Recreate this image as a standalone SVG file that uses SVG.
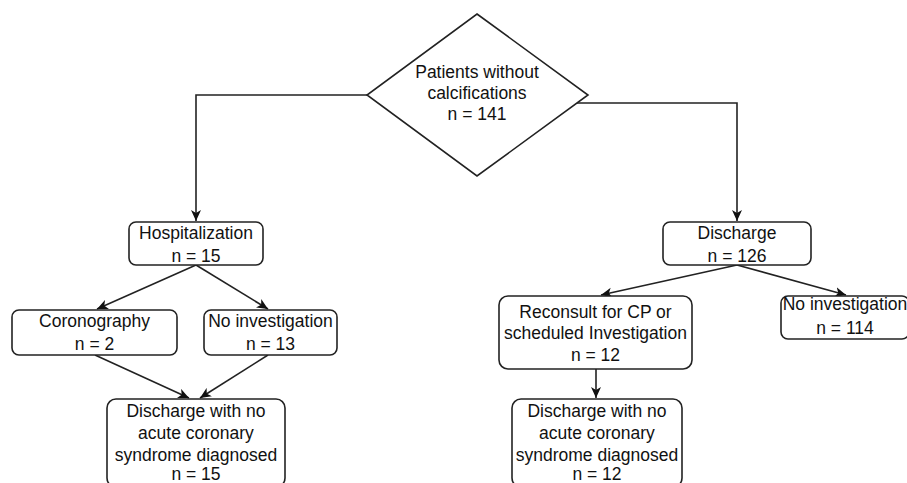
<svg xmlns="http://www.w3.org/2000/svg" width="907" height="483" viewBox="0 0 907 483">
<defs>
<style>
.box{fill:#fff;stroke:#222;stroke-width:1.6}
.t{font-family:"Liberation Sans",Arial,sans-serif;font-size:17.5px;fill:#111;text-anchor:middle}
.c{fill:none;stroke:#222;stroke-width:1.6}
</style>
<marker id="arr" markerUnits="userSpaceOnUse" markerWidth="12" markerHeight="11" refX="11" refY="5" orient="auto" viewBox="0 0 12 10">
<path d="M0,0 L11,5 L0,10 L3,5 z" fill="#111"/>
</marker>
</defs>
<rect width="907" height="483" fill="#fff"/>
<g id="connectors">
<path class="c" d="M367,95 H196 V221" marker-end="url(#arr)"/>
<path class="c" d="M577,103 H737 V221" marker-end="url(#arr)"/>
<path class="c" d="M196,265 L97,309" marker-end="url(#arr)"/>
<path class="c" d="M196,265 L268,309" marker-end="url(#arr)"/>
<path class="c" d="M95,355 L189,398" marker-end="url(#arr)"/>
<path class="c" d="M268,355 L200,398" marker-end="url(#arr)"/>
<path class="c" d="M737,265 L601,295" marker-end="url(#arr)"/>
<path class="c" d="M737,265 L846,295" marker-end="url(#arr)"/>
<path class="c" d="M596,369 V398" marker-end="url(#arr)"/>
</g>
<g id="start">
<polygon class="box" points="477,14 588,95 477,176 367,95"/>
<text class="t" x="477" y="78">Patients without</text>
<text class="t" x="477" y="99">calcifications</text>
<text class="t" x="477" y="120">n = 141</text>
</g>
<g id="hospitalization">
<rect class="box" x="129" y="222" width="134" height="43" rx="7"/>
<text class="t" x="196" y="239">Hospitalization</text>
<text class="t" x="196" y="262">n = 15</text>
</g>
<g id="coronography">
<rect class="box" x="12" y="310" width="165" height="45" rx="7"/>
<text class="t" x="94.5" y="327">Coronography</text>
<text class="t" x="94.5" y="350">n = 2</text>
</g>
<g id="noinv-left">
<rect class="box" x="204" y="310" width="133" height="45" rx="7"/>
<text class="t" x="270.5" y="327">No investigation</text>
<text class="t" x="270.5" y="350">n = 13</text>
</g>
<g id="discharge-left">
<rect class="box" x="107" y="399" width="178" height="88" rx="9"/>
<text class="t" x="196" y="417">Discharge with no</text>
<text class="t" x="196" y="439">acute coronary</text>
<text class="t" x="196" y="461">syndrome diagnosed</text>
<text class="t" x="196" y="480">n = 15</text>
</g>
<g id="discharge">
<rect class="box" x="663" y="222" width="148" height="43" rx="7"/>
<text class="t" x="737" y="239">Discharge</text>
<text class="t" x="737" y="262">n = 126</text>
</g>
<g id="reconsult">
<rect class="box" x="499" y="296" width="193" height="73" rx="9"/>
<text class="t" x="595.5" y="318">Reconsult for CP or</text>
<text class="t" x="595.5" y="339">scheduled Investigation</text>
<text class="t" x="595.5" y="361">n = 12</text>
</g>
<g id="noinv-right">
<rect class="box" x="781" y="296" width="128" height="43" rx="7"/>
<text class="t" x="845" y="310">No investigation</text>
<text class="t" x="845" y="334">n = 114</text>
</g>
<g id="discharge-right">
<rect class="box" x="512" y="399" width="170" height="88" rx="9"/>
<text class="t" x="597" y="417">Discharge with no</text>
<text class="t" x="597" y="439">acute coronary</text>
<text class="t" x="597" y="461">syndrome diagnosed</text>
<text class="t" x="597" y="480">n = 12</text>
</g>
</svg>
